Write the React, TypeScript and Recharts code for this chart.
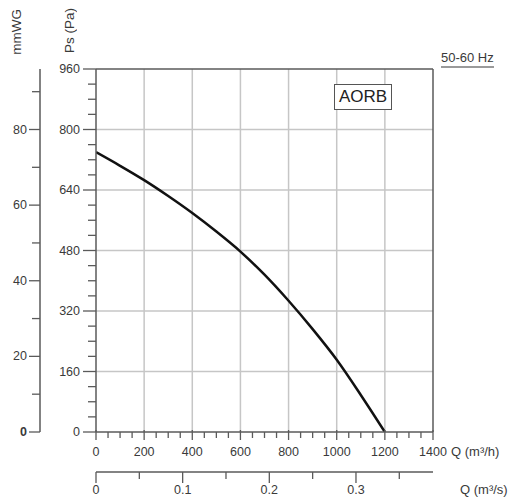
import { LineChart, Line, XAxis, YAxis, ReferenceLine } from 'recharts';

// fan curve: flow in m3/h, static pressure in Pa
const flowQ = [0, 100, 200, 300, 400, 500, 600, 700, 800, 900, 1000, 1100, 1200];
const pressurePa = [740, 704, 666, 624, 579, 530, 477, 416, 347, 272, 191, 98, 0];

const paMajor = [0, 160, 320, 480, 640, 800, 960];
const qhMajor = [0, 200, 400, 600, 800, 1000, 1200, 1400];
const mmMajor = [0, 20, 40, 60, 80];
const qsTicks = [0, 0.05, 0.1, 0.15, 0.2, 0.25, 0.3, 0.35];

// minor tick steps
const paTicks = Array.from({ length: 25 }, (_, i) => i * 40);
const qhTicks = Array.from({ length: 29 }, (_, i) => i * 50);
const mmTicks = Array.from({ length: 10 }, (_, i) => i * 10);
// m3/s ticks placed on the m3/h scale
const qsOnQh = qsTicks.map((v) => v * 3600);

const data = flowQ.map((q, i) => ({ q, ps: pressurePa[i] }));

const AXIS = '#5a5a5a';
const GRID = '#c6c6c6';
const TXT = '#3a3a3a';
const FONT = '"Liberation Sans", Arial, sans-serif';

const PaTick = ({ x, y, payload }: any) => {
  const major = paMajor.includes(payload.value);
  return (
    <g>
      <line x1={x - (major ? 13 : 8)} x2={x} y1={y} y2={y} stroke={AXIS} strokeWidth={1.3} />
      {major && (
        <text x={x - 16} y={y} textAnchor="end" dominantBaseline="central" fontSize={12.5} fill={TXT}>
          {payload.value}
        </text>
      )}
    </g>
  );
};

const MmTick = ({ x, y, payload }: any) => {
  const major = mmMajor.includes(payload.value);
  return (
    <g>
      <line x1={x - (major ? 11 : 8)} x2={x} y1={y} y2={y} stroke={AXIS} strokeWidth={1.3} />
      {major && (
        <text
          x={x - 13}
          y={y}
          textAnchor="end"
          dominantBaseline="central"
          fontSize={12.5}
          fontWeight={payload.value === 0 ? 'bold' : 'normal'}
          fill={TXT}
        >
          {payload.value}
        </text>
      )}
    </g>
  );
};

const QhTick = ({ x, y, payload }: any) => {
  const major = qhMajor.includes(payload.value);
  return (
    <g>
      <line x1={x} x2={x} y1={major ? y - 2 : y} y2={y + (major ? 8 : 6)} stroke={AXIS} strokeWidth={1.3} />
      {major && (
        <text x={x} y={y + 20} textAnchor="middle" dominantBaseline="central" fontSize={12.5} fill={TXT}>
          {payload.value}
        </text>
      )}
    </g>
  );
};

const QsTick = ({ x, y, payload }: any) => {
  const v = Math.round((payload.value / 3600) * 100) / 100;
  const major = Math.round(v * 100) % 10 === 0;
  return (
    <g>
      <line x1={x} x2={x} y1={y} y2={y + (major ? 11 : 7)} stroke={AXIS} strokeWidth={1.3} />
      {major && (
        <text x={x} y={y + 18} textAnchor="middle" dominantBaseline="central" fontSize={12.5} fill={TXT}>
          {v}
        </text>
      )}
    </g>
  );
};

const vertical: React.CSSProperties = {
  position: 'absolute',
  writingMode: 'vertical-rl',
  transform: 'rotate(180deg)',
  fontSize: 13.5,
  color: TXT,
  lineHeight: '15px',
};

const label: React.CSSProperties = {
  position: 'absolute',
  fontSize: 13,
  color: TXT,
  lineHeight: '15px',
  whiteSpace: 'nowrap',
};

export default function App() {
  return (
    <div style={{ position: 'absolute', left: 0, top: 0, width: 512, height: 497, fontFamily: FONT, background: '#fff' }}>
      <LineChart width={512} height={497} data={data} margin={{ top: 69, right: 79, left: 0, bottom: 0 }}>
        <XAxis
          xAxisId="x1"
          dataKey="q"
          type="number"
          domain={[0, 1400]}
          ticks={qhTicks}
          interval={0}
          height={40}
          tickSize={0}
          tickMargin={0}
          axisLine={{ stroke: AXIS, strokeWidth: 1.5 }}
          tick={QhTick}
          allowDataOverflow
        />
        <XAxis
          xAxisId="x2"
          dataKey="q"
          type="number"
          domain={[0, 1400]}
          ticks={qsOnQh}
          interval={0}
          height={25}
          tickSize={0}
          tickMargin={0}
          axisLine={{ stroke: AXIS, strokeWidth: 1.5 }}
          tick={QsTick}
          allowDataOverflow
        />
        <YAxis
          yAxisId="y2"
          type="number"
          domain={[0, 96]}
          ticks={mmTicks}
          interval={0}
          width={40}
          tickSize={0}
          tickMargin={0}
          axisLine={{ stroke: AXIS, strokeWidth: 1.5 }}
          tick={MmTick}
          allowDataOverflow
        />
        <YAxis
          yAxisId="y1"
          type="number"
          domain={[0, 960]}
          ticks={paTicks}
          interval={0}
          width={56}
          tickSize={0}
          tickMargin={0}
          axisLine={{ stroke: AXIS, strokeWidth: 1.5 }}
          tick={PaTick}
          allowDataOverflow
        />
        {qhMajor.slice(1, -1).map((v) => (
          <ReferenceLine key={'v' + v} xAxisId="x1" yAxisId="y1" x={v} stroke={GRID} strokeWidth={1.5} />
        ))}
        {paMajor.slice(1, -1).map((v) => (
          <ReferenceLine key={'h' + v} xAxisId="x1" yAxisId="y1" y={v} stroke={GRID} strokeWidth={1.5} />
        ))}
        <ReferenceLine xAxisId="x1" yAxisId="y1" x={1400} stroke={AXIS} strokeWidth={1.5} />
        <ReferenceLine xAxisId="x1" yAxisId="y1" y={960} stroke={AXIS} strokeWidth={1.5} />
        <Line
          xAxisId="x1"
          yAxisId="y1"
          dataKey="ps"
          type="monotone"
          stroke="#111"
          strokeWidth={2.5}
          dot={false}
          isAnimationActive={false}
        />
      </LineChart>

      <div style={{ ...vertical, left: 9, top: 9 }}>mmWG</div>
      <div style={{ ...vertical, left: 62, top: 8 }}>Ps (Pa)</div>
      <div style={{ ...label, left: 441, top: 50, borderBottom: '2px solid #9a9a9a', paddingBottom: 1 }}>
        50-60 Hz
      </div>
      <div
        style={{
          position: 'absolute',
          left: 334,
          top: 84,
          width: 56,
          height: 24,
          border: '1px solid #555',
          background: '#fff',
          fontSize: 17,
          lineHeight: '24px',
          textAlign: 'center',
          color: '#222',
        }}
      >
        AORB
      </div>
      <div style={{ ...label, left: 451, top: 444 }}>Q (m³/h)</div>
      <div style={{ ...label, left: 460, top: 482 }}>Q (m³/s)</div>
    </div>
  );
}
